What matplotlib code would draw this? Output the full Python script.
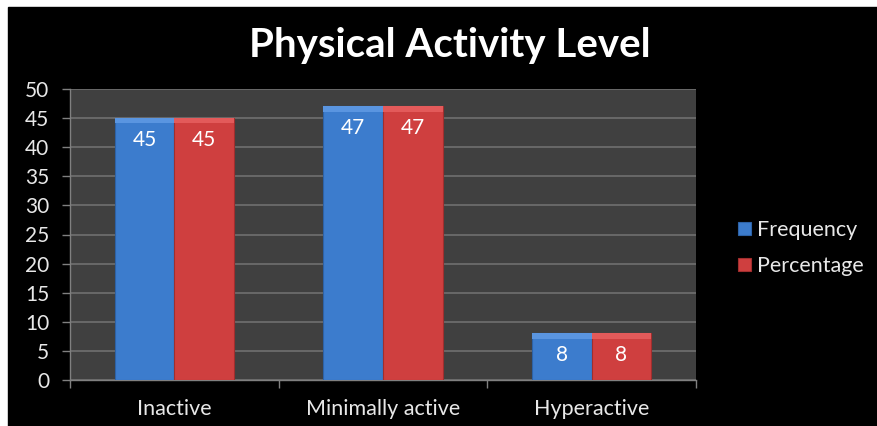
import numpy as np
import matplotlib
matplotlib.use('Agg')
import matplotlib.pyplot as plt
from matplotlib.patches import Rectangle

plt.rcParams['font.family'] = ['Lato', 'DejaVu Sans']

# ----- data -----
categories = ['Inactive', 'Minimally active', 'Hyperactive']
frequency = [45, 47, 8]
percentage = [45, 47, 8]
y_ticks = [0, 5, 10, 15, 20, 25, 30, 35, 40, 45, 50]

blue = '#3c7ccd'
red = '#cf3f3f'
txt = '#e8e8e8'

fig = plt.figure(figsize=(8.78, 4.26), dpi=100, facecolor='white')
# black chart area with a thin white margin top/left
fig.patches.append(Rectangle((8 / 878, 0), 1, (426 - 7) / 426,
                             transform=fig.transFigure, color='black', zorder=-10))

ax = fig.add_axes([70 / 878, 1 - 380 / 426, (696 - 70) / 878, (380 - 89) / 426])
ax.set_facecolor('#404040')

x = np.arange(len(categories))
w = 1 / 3.5
b1 = ax.bar(x - w / 2, frequency, w, color=blue, edgecolor='#2d62a6', linewidth=0.8,
            zorder=3, label='Frequency')
b2 = ax.bar(x + w / 2, percentage, w, color=red, edgecolor='#a02e2e', linewidth=0.8,
            zorder=3, label='Percentage')

# lighter bevel on top of each bar
for bars, col in ((b1, '#5a95e0'), (b2, '#e35a5a')):
    for bar in bars:
        ax.add_patch(Rectangle((bar.get_x(), bar.get_height() - 0.9), bar.get_width(), 0.9,
                               color=col, zorder=4, linewidth=0))

for bars, vals in ((b1, frequency), (b2, percentage)):
    for bar, v in zip(bars, vals):
        ax.text(bar.get_x() + bar.get_width() / 2, v - 3.7, str(v),
                ha='center', va='center', color='white', fontsize=15, zorder=5)

ax.set_xlim(-0.5, len(categories) - 0.5)
ax.set_ylim(0, 50)
ax.set_yticks(y_ticks)
ax.yaxis.grid(True, color='#707070', linewidth=1.2, zorder=1)
ax.set_axisbelow(True)

ax.set_xticks(x)
ax.set_xticklabels(categories)
ax.set_xticks(np.arange(len(categories) + 1) - 0.5, minor=True)
ax.tick_params(axis='x', which='major', length=0, pad=14, labelsize=15.5, labelcolor=txt)
ax.tick_params(axis='x', which='minor', length=6, color='#808080', width=1)
ax.tick_params(axis='y', length=6, color='#808080', width=1, pad=9,
               labelsize=15, labelcolor=txt)

for s in ['top', 'right']:
    ax.spines[s].set_visible(False)
for s in ['left', 'bottom']:
    ax.spines[s].set_color('#808080')
    ax.spines[s].set_linewidth(1)

fig.text(450 / 878, 1 - 45 / 426, 'Physical Activity Level', ha='center', va='center',
         color='white', fontsize=29, fontweight='bold')

leg = fig.legend(handles=[b1, b2], loc='center left', bbox_to_anchor=(719 / 878, 1 - 248 / 426),
                 frameon=False, fontsize=15.5, labelcolor=txt, handlelength=0.6,
                 handleheight=0.6, handletextpad=0.25, labelspacing=0.75)

fig.savefig('out.png', dpi=100, facecolor=fig.get_facecolor())
